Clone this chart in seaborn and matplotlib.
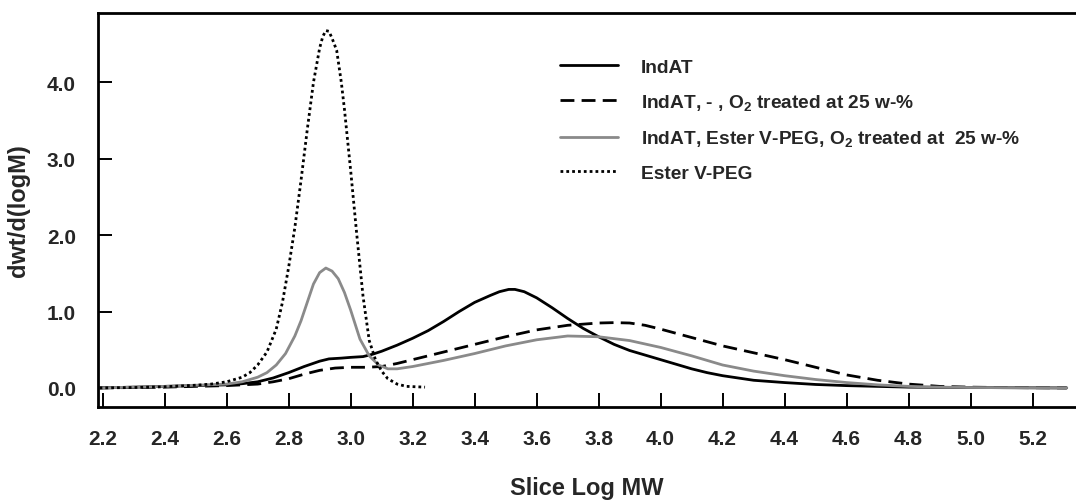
import numpy as np
import pandas as pd
import matplotlib
matplotlib.use("Agg")
import matplotlib.pyplot as plt
import seaborn as sns

# ---------------- data ----------------
x_indat = [2.19, 2.3, 2.4, 2.5, 2.6, 2.65, 2.7, 2.75, 2.8, 2.85, 2.9, 2.93, 2.97, 3.0, 3.04, 3.07,
           3.1, 3.15, 3.2, 3.25, 3.3, 3.35, 3.4, 3.45, 3.48, 3.51, 3.53, 3.56, 3.6, 3.65, 3.7, 3.75,
           3.8, 3.85, 3.9, 3.95, 4.0, 4.05, 4.1, 4.15, 4.2, 4.3, 4.4, 4.5, 4.6, 4.7, 4.8, 5.0, 5.31]
y_indat = [0.0, 0.01, 0.02, 0.03, 0.04, 0.055, 0.08, 0.13, 0.2, 0.28, 0.35, 0.38, 0.39, 0.40, 0.41, 0.44,
           0.48, 0.56, 0.65, 0.75, 0.87, 1.0, 1.12, 1.21, 1.26, 1.29, 1.29, 1.26, 1.18, 1.05, 0.91, 0.78,
           0.67, 0.57, 0.49, 0.43, 0.37, 0.31, 0.25, 0.2, 0.16, 0.10, 0.07, 0.045, 0.03, 0.02, 0.01, 0.005, 0.0]

x_o2 = [2.19, 2.3, 2.4, 2.5, 2.6, 2.7, 2.75, 2.8, 2.85, 2.9, 2.95, 3.0, 3.05, 3.1, 3.15, 3.2,
        3.3, 3.4, 3.5, 3.6, 3.7, 3.8, 3.85, 3.9, 3.95, 4.0, 4.1, 4.2, 4.3, 4.4, 4.5, 4.6, 4.7, 4.8, 4.9,
        5.0, 5.1, 5.31]
y_o2 = [0.0, 0.005, 0.01, 0.02, 0.03, 0.05, 0.08, 0.12, 0.18, 0.23, 0.26, 0.27, 0.27, 0.28, 0.32, 0.37,
        0.47, 0.57, 0.67, 0.76, 0.82, 0.85, 0.855, 0.85, 0.82, 0.77, 0.66, 0.55, 0.46, 0.37, 0.27, 0.17, 0.10, 0.05, 0.02,
        0.01, 0.005, 0.0]

x_mix = [2.19, 2.3, 2.4, 2.5, 2.6, 2.65, 2.7, 2.73, 2.76, 2.79, 2.82, 2.84, 2.86, 2.88, 2.9, 2.92, 2.94,
         2.96, 2.98, 3.0, 3.03, 3.06, 3.09, 3.12, 3.15, 3.2, 3.3, 3.4, 3.5, 3.6, 3.7, 3.8, 3.9, 4.0,
         4.1, 4.2, 4.3, 4.4, 4.5, 4.6, 4.7, 4.8, 4.9, 5.0, 5.31]
y_mix = [0.0, 0.01, 0.02, 0.035, 0.05, 0.08, 0.14, 0.2, 0.3, 0.45, 0.68, 0.88, 1.12, 1.36, 1.51, 1.57, 1.53,
         1.43, 1.25, 1.02, 0.64, 0.42, 0.3, 0.25, 0.25, 0.28, 0.36, 0.45, 0.55, 0.63, 0.68, 0.67, 0.62, 0.53,
         0.42, 0.30, 0.22, 0.16, 0.11, 0.07, 0.04, 0.02, 0.01, 0.005, 0.0]

x_peg = [2.19, 2.3, 2.4, 2.5, 2.55, 2.6, 2.65, 2.675, 2.7, 2.73, 2.76, 2.78, 2.8, 2.82, 2.84, 2.86,
         2.88, 2.9, 2.91, 2.92, 2.93, 2.94, 2.955, 2.97, 2.98, 3.0, 3.02, 3.04, 3.06, 3.08, 3.1, 3.12,
         3.15, 3.18, 3.24]
y_peg = [0.0, 0.005, 0.015, 0.035, 0.05, 0.08, 0.14, 0.2, 0.3, 0.47, 0.77, 1.12, 1.58, 2.1, 2.72, 3.38,
         4.0, 4.45, 4.6, 4.68, 4.67, 4.58, 4.42, 4.0, 3.65, 2.85, 2.0, 1.2, 0.62, 0.37, 0.22, 0.12,
         0.05, 0.02, 0.01]

labels = ["IndAT",
          "IndAT, - , O$_2$ treated at 25 w-%",
          "IndAT, Ester V-PEG, O$_2$ treated at  25 w-%",
          "Ester V-PEG"]

x_ticks = [2.2, 2.4, 2.6, 2.8, 3.0, 3.2, 3.4, 3.6, 3.8, 4.0, 4.2, 4.4, 4.6, 4.8, 5.0, 5.2]
y_ticks = [0.0, 1.0, 2.0, 3.0, 4.0]

# ---------------- style ----------------
sns.set_style("white")
plt.rcParams["font.family"] = ["Liberation Sans", "DejaVu Sans"]
plt.rcParams["font.weight"] = "bold"
plt.rcParams["mathtext.fontset"] = "custom"
plt.rcParams["mathtext.rm"] = "Liberation Sans:bold"
plt.rcParams["mathtext.it"] = "Liberation Sans:bold"
plt.rcParams["mathtext.bf"] = "Liberation Sans:bold"
plt.rcParams["mathtext.default"] = "rm"

fig = plt.figure(figsize=(10.76, 5.02), dpi=100)
ax = fig.add_axes([98 / 1076, 94 / 502, 978 / 1076, 394 / 502])

series = [
    (x_indat, y_indat, "black", "-", labels[0]),
    (x_o2, y_o2, "black", (0, (5, 2.6)), labels[1]),
    (x_mix, y_mix, "#8a8a8a", "-", labels[2]),
    (x_peg, y_peg, "black", (0, (1, 1.1)), labels[3]),
]
for xs, ys, col, ls, lab in series:
    df = pd.DataFrame({"x": xs, "y": ys})
    sns.lineplot(data=df, x="x", y="y", ax=ax, color=col, linestyle=ls,
                 linewidth=2.0, label=lab, errorbar=None, sort=True,
                 solid_joinstyle="round", dash_joinstyle="round")

ax.set_xlim(2.185, 5.34)
ax.set_ylim(-0.25, 4.91)
ax.set_xticks(x_ticks)
ax.set_xticklabels([f"{v:.1f}" for v in x_ticks])
ax.set_yticks(y_ticks)
ax.set_yticklabels([f"{v:.1f}" for v in y_ticks])
ax.tick_params(axis="both", which="major", direction="in", length=10, width=1.4,
               labelsize=15, color="black", bottom=True, left=True, top=False, right=False)
ax.tick_params(axis="x", pad=16)
ax.tick_params(axis="y", pad=16)

for side in ["left", "top", "bottom"]:
    ax.spines[side].set_linewidth(2.0)
    ax.spines[side].set_color("black")
ax.spines["right"].set_visible(False)

ax.set_xlabel("Slice Log MW", fontsize=17, fontweight="bold", labelpad=20)
ax.set_ylabel("dwt/d(logM)", fontsize=17, fontweight="bold", labelpad=12)

leg = ax.legend(loc="upper left", bbox_to_anchor=(0.4724, 0.885), frameon=False,
                fontsize=13.8, handlelength=3.0, handletextpad=1.2, labelspacing=0.85,
                borderpad=0, borderaxespad=0)

fig.savefig("out.png", dpi=100)
